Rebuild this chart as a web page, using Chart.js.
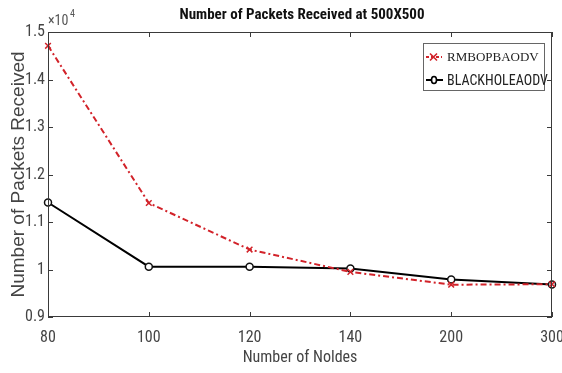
<!DOCTYPE html>
<html>
<head>
<meta charset="utf-8">
<script src="https://cdn.jsdelivr.net/npm/chart.js@4"></script>
<style>
  html, body { margin: 0; padding: 0; background: #fff; }
  #wrap { width: 562px; height: 373px; }
</style>
</head>
<body>
<div id="wrap"><canvas id="c" width="562" height="373"></canvas></div>
<script>
// Node counts (x categories)
const nodes = ['80', '100', '120', '140', '200', '300'];
// Packets received per scenario
const rmbopbaodv = [14710, 11400, 10420, 9950, 9680, 9690];
const blackholeaodv = [11410, 10060, 10060, 10020, 9790, 9685];
// Y tick values (packets)
const yTicks = [9000, 10000, 11000, 12000, 13000, 14000, 15000];

const cond = '"Roboto Condensed", "Liberation Sans", Arial, sans-serif';
const red = '#d2232a';

// Box frame, inward ticks, title, exponent label and legend
const decor = {
  id: 'decor',
  afterDraw(chart) {
    const { ctx, chartArea: a, scales } = chart;
    const x = scales.x, y = scales.y;
    ctx.save();
    ctx.strokeStyle = '#3a3a3a';
    ctx.lineWidth = 1;
    ctx.strokeRect(a.left + 0.5, a.top + 0.5, a.right - a.left - 1, a.bottom - a.top - 1);
    ctx.beginPath();
    nodes.forEach((_, i) => {
      const px = Math.round(x.getPixelForValue(i)) + 0.5;
      ctx.moveTo(px, a.bottom); ctx.lineTo(px, a.bottom - 5);
      ctx.moveTo(px, a.top); ctx.lineTo(px, a.top + 5);
    });
    yTicks.forEach(v => {
      const py = Math.round(y.getPixelForValue(v)) + 0.5;
      ctx.moveTo(a.left, py); ctx.lineTo(a.left + 5, py);
      ctx.moveTo(a.right, py); ctx.lineTo(a.right - 5, py);
    });
    ctx.stroke();

    // title
    ctx.fillStyle = '#111';
    ctx.textAlign = 'center';
    ctx.textBaseline = 'middle';
    ctx.font = 'bold 15px ' + cond;
    ctx.fillText('Number of Packets Received at 500X500', 302, 15);

    // exponent
    ctx.fillStyle = '#555';
    ctx.textAlign = 'left';
    ctx.font = '14px ' + cond;
    ctx.fillText('\u00d710', 48, 21);
    ctx.font = '10px ' + cond;
    ctx.fillText('4', 70, 14);

    // legend
    const lx = 423, ly = 43, lw = 121, lh = 47;
    ctx.fillStyle = '#fff';
    ctx.fillRect(lx, ly, lw, lh);
    ctx.strokeStyle = '#666';
    ctx.strokeRect(lx + 0.5, ly + 0.5, lw, lh);

    // RMBOPBAODV entry
    let ey = ly + 14;
    ctx.strokeStyle = red;
    ctx.lineWidth = 2;
    ctx.setLineDash([3, 2]);
    ctx.beginPath(); ctx.moveTo(lx + 3, ey); ctx.lineTo(lx + 19, ey); ctx.stroke();
    ctx.setLineDash([]);
    ctx.lineWidth = 1.6;
    ctx.beginPath();
    ctx.moveTo(lx + 7, ey - 3.5); ctx.lineTo(lx + 14, ey + 3.5);
    ctx.moveTo(lx + 14, ey - 3.5); ctx.lineTo(lx + 7, ey + 3.5);
    ctx.stroke();
    ctx.fillStyle = '#222';
    ctx.font = '13px "Liberation Serif", "Times New Roman", serif';
    ctx.fillText('RMBOPBAODV', lx + 24, ey + 1);

    // BLACKHOLEAODV entry
    ey = ly + 37;
    ctx.strokeStyle = '#000';
    ctx.lineWidth = 2;
    ctx.beginPath(); ctx.moveTo(lx + 3, ey); ctx.lineTo(lx + 20, ey); ctx.stroke();
    ctx.fillStyle = '#fff';
    ctx.lineWidth = 1.6;
    ctx.beginPath(); ctx.ellipse(lx + 11, ey, 2.5, 3.5, 0, 0, Math.PI * 2); ctx.fill(); ctx.stroke();
    ctx.fillStyle = '#222';
    ctx.font = '14px ' + cond;
    ctx.fillText('BLACKHOLEAODV', lx + 24, ey + 1);
    ctx.restore();
  }
};

new Chart(document.getElementById('c'), {
  type: 'line',
  data: {
    labels: nodes,
    datasets: [
      {
        label: 'RMBOPBAODV',
        data: rmbopbaodv,
        borderColor: red,
        borderWidth: 2,
        borderDash: [6, 3, 2, 3],
        pointStyle: 'crossRot',
        pointRadius: 4,
        pointBorderColor: red,
        pointBorderWidth: 1.5,
        tension: 0,
        fill: false
      },
      {
        label: 'BLACKHOLEAODV',
        data: blackholeaodv,
        borderColor: '#000',
        borderWidth: 2,
        pointStyle: 'circle',
        pointRadius: 3.5,
        pointBackgroundColor: '#fff',
        pointBorderColor: '#111',
        pointBorderWidth: 1.5,
        tension: 0,
        fill: false
      }
    ]
  },
  options: {
    responsive: false,
    animation: false,
    layout: { padding: { top: 32, right: 10, left: 0, bottom: 0 } },
    plugins: { legend: { display: false }, title: { display: false }, tooltip: { enabled: false } },
    scales: {
      x: {
        type: 'category',
        offset: false,
        grid: { display: false, drawTicks: false },
        border: { display: false },
        ticks: { color: '#444', font: { family: cond, size: 16 }, padding: 11, maxRotation: 0, autoSkip: false },
        title: { display: true, text: 'Number of Noldes', color: '#444', font: { family: cond, size: 16 }, padding: { top: 0, bottom: 5 } },
        afterFit(s) { s.height = 56; s.paddingLeft = 0; s.paddingRight = 0; }
      },
      y: {
        min: 9000,
        max: 15000,
        grid: { display: false, drawTicks: false },
        border: { display: false },
        afterBuildTicks(s) { s.ticks = yTicks.map(v => ({ value: v })); },
        ticks: {
          color: '#444',
          font: { family: cond, size: 16 },
          padding: 3,
          callback: v => String(Math.round(v / 1000) / 10)
        },
        title: { display: true, text: 'Number of Packets Received', color: '#444', font: { family: '"Liberation Sans", Arial, sans-serif', size: 19 }, padding: { top: 7, bottom: 0 } },
        afterFit(s) { s.width = 48; s.paddingTop = 0; s.paddingBottom = 0; }
      }
    }
  },
  plugins: [decor]
});
</script>
</body>
</html>
